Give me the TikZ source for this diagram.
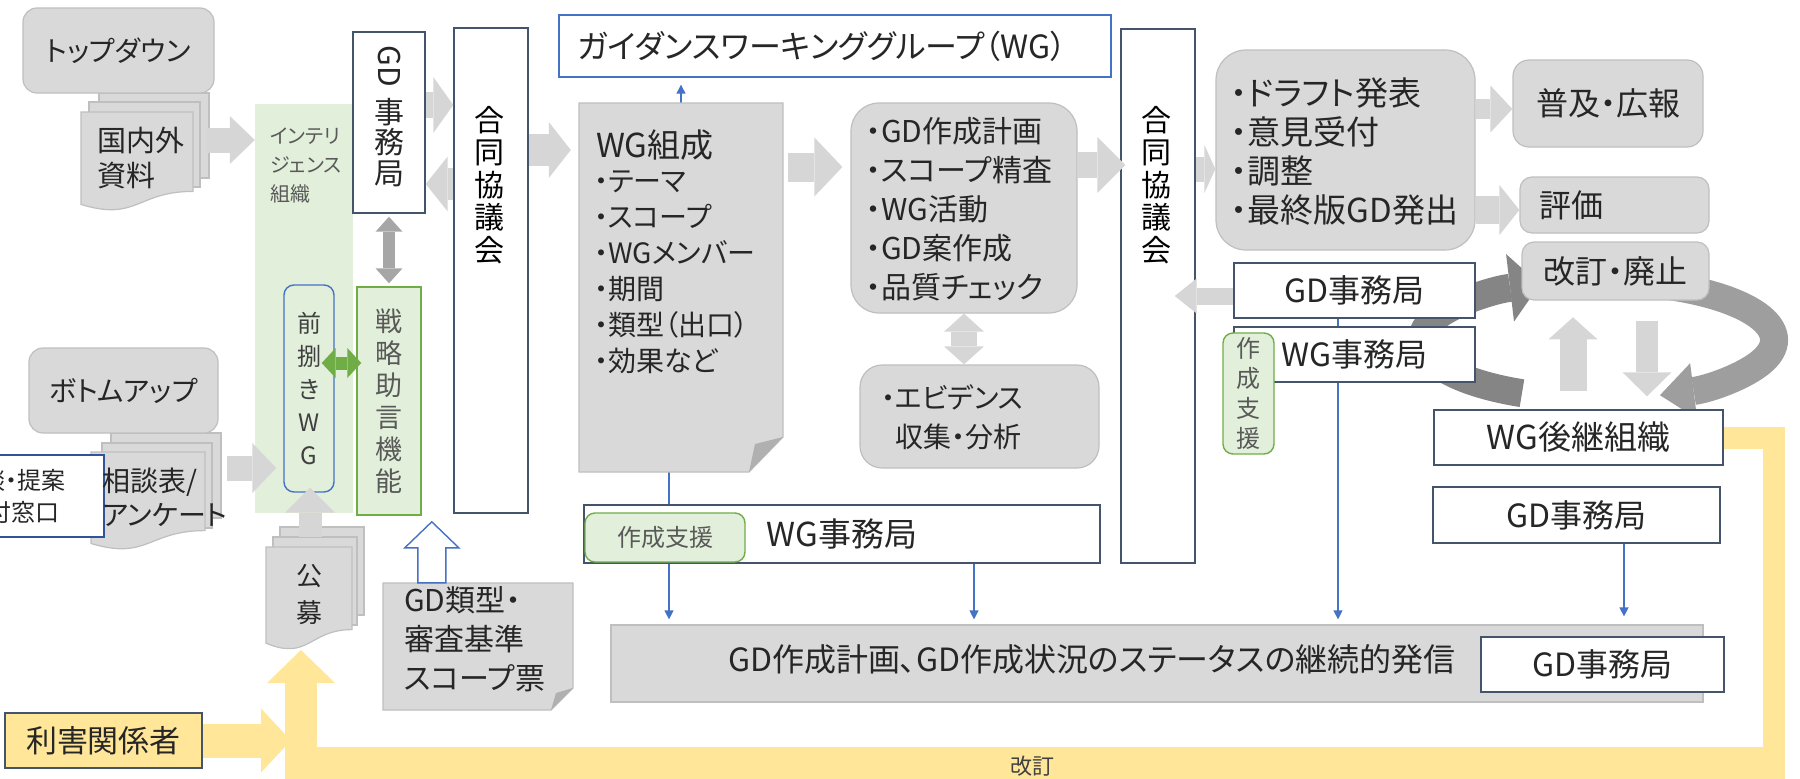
\documentclass[tikz,border=0pt]{standalone}
\usepackage{fontspec}
\usepackage{graphicx}
\setmainfont{Noto Sans CJK JP}[RawFeature=+palt]
\usetikzlibrary{arrows.meta,calc}
\definecolor{gfill}{HTML}{D9D9D9}
\definecolor{gbord}{HTML}{BFBFBF}
\definecolor{afill}{HTML}{D6D6D6}
\definecolor{dgray}{HTML}{A6A6A6}
\definecolor{wbord}{HTML}{44546A}
\definecolor{bl}{HTML}{4472C4}
\definecolor{bltwo}{HTML}{2F5597}
\definecolor{gfillg}{HTML}{E2EFDA}
\definecolor{grn}{HTML}{70AD47}
\definecolor{ylw}{HTML}{FFE699}
\definecolor{txt}{HTML}{262626}
\definecolor{gtxt}{HTML}{595959}
\definecolor{dtxt}{HTML}{404040}
\definecolor{fold}{HTML}{B0B0B0}
\definecolor{arcA}{HTML}{858585}
\definecolor{arcB}{HTML}{9E9E9E}
\pgfdeclarelayer{bg}
\pgfsetlayers{bg,main}
\newcommand\fsz[2]{\fontsize{#1}{#2}\selectfont}
\newcommand\docpage[4]{\draw[gdoc] (#1,#2) rectangle ++(#3,#4);}
\newcommand\docfront[4]{\draw[gdoc] (#1,#2) -- (#1+#3,#2) -- (#1+#3,#2+0.802*#4) .. controls +(-0.5*#3,0) and +(0.5*#3,0.173*#4) .. (#1,#2+0.934*#4) -- cycle;}
\begin{document}
\begin{tikzpicture}[x=1pt, y=-1pt,
  every node/.append style={text=txt, inner sep=0pt},
  gbox/.style={draw=gbord, fill=gfill, line width=1.2pt},
  wbox/.style={draw=wbord, fill=white, line width=1.4pt},
  gnbox/.style={draw=grn, fill=gfillg, line width=1.4pt, text=gtxt},
  gdoc/.style={draw=gbord, fill=gfill, line width=1.2pt},
  barr/.style n args={3}{draw=afill, line width=#1pt, -{Triangle[width=#2pt,length=#3pt,line width=0pt]}},
  dbarr/.style n args={3}{draw=afill, line width=#1pt, {Triangle[width=#2pt,length=#3pt,line width=0pt]}-{Triangle[width=#2pt,length=#3pt,line width=0pt]}},
  blu/.style={draw=bl, line width=1.2pt, -{Triangle[width=9pt,length=9pt]}},
  sz/.style 2 args={minimum width=#1pt, minimum height=#2pt}]
\useasboundingbox (0,0) rectangle (1800,779);

% ---------- left column ----------
\docpage{99}{93}{110}{85}
\docpage{89}{102}{111}{85}
\docfront{81}{112}{112}{99}
\node[gbox, rounded corners=14pt, sz={191}{85}, font=\fsz{28}{34}] (topdown) at (118.5,50.5) {トップダウン};
\node[font=\fsz{29}{35}, align=left] (kokunai) at (141,158) {国内外\\資料};
\coordinate (kokunaiR) at (206,140);

\docpage{111}{433}{110}{85}
\docpage{102}{443}{110}{85}
\docfront{91}{452}{114}{98}
\node[gbox, rounded corners=14pt, sz={189}{85}, font=\fsz{28}{34}] (bottomup) at (123.5,390.5) {ボトムアップ};
\node[wbox, draw=bltwo, sz={184}{82}, font=\fsz{24}{32}, align=center] (madoguchi) at (12,496) {相談・提案\\受付窓口};
\node[font=\fsz{28}{34}, align=left] (sodan) at (165,497.5) {相談表/\\アンケート};
\coordinate (sodanR) at (227,468);

\node[fill=gfillg, sz={98}{409}] (intel) at (304,308.5) {};
\node[anchor=west, align=left, font=\fsz{20}{29}, text=gtxt] (inteltxt) at (270,165.5) {インテリ\\ジェンス\\組織};

\node[wbox, sz={72}{181}] (gdj1) at (389,122.5) {};
\node[rotate=-90, font=\fsz{30}{30}] (gdj1a) at (389,66) {GD};
\node[font=\fsz{30}{30.5}, align=center] (gdj1b) at (389,142.5) {事\\務\\局};

\node[wbox, sz={74}{485}] (godo1) at (491,270.5) {};
\node[font=\fsz{30}{32.5}, align=center, text=black] (godo1t) at (489,185) {合\\同\\協\\議\\会};

\node[draw=bl, fill=gfillg, line width=1.4pt, rounded corners=10pt, sz={50}{207}, font=\fsz{24}{33}, align=center, text=dtxt] (maesaba) at (309,388.5) {前\\捌\\き\\W\\G};
\node[gnbox, sz={64}{228}, font=\fsz{27}{32}, align=center] (senryaku) at (389,401) {戦\\略\\助\\言\\機\\能};

\docpage{280}{527}{84}{88}
\docpage{273}{537}{84}{88}
\docfront{266}{547}{86}{103}
\node[font=\fsz{26}{37}, align=center] (kobo) at (309,595) {公\\募};
\coordinate (kobotop) at (310,537);
\coordinate (kobotip) at (301,650);

\draw[gdoc] (383,583) -- (573,583) -- (573,688) -- (551,710) -- (383,710) -- cycle;
\fill[fold] (573,688) -- (551,710) -- (556,693) -- cycle;
\node[sz={190}{127}] (ruikei) at (478,646.5) {};
\node[anchor=west, align=left, font=\fsz{30}{39}] (ruikeit) at (404,639) {GD類型・\\審査基準\\スコープ票};
\draw[draw=bl, fill=white, line width=1.4pt, shift={(ruikei.north west)}] (35,0) -- (63,0) -- (63,-35) -- (76,-35) -- (49,-61) -- (22,-35) -- (35,-35) -- cycle;

% yellow revision loop
\coordinate (ycorner) at (1774,752);
\coordinate (ybr) at (1785,763);
\draw[draw=ylw, line width=22pt] (1700,437.5) -| (ycorner);
\draw[draw=ylw, line width=32pt, -{Triangle[width=68pt,length=33pt,line width=0pt]}] (ybr) -| (kobotip);
\node[font=\fsz{22}{26}, text=dtxt] (kaiteilbl) at (1032,766) {改訂};
\node[draw=wbord, fill=ylw, line width=1.4pt, sz={197}{55}, font=\fsz{31}{36}] (rigai) at (103.5,740.5) {利害関係者};
\draw[draw=ylw, line width=34pt, -{Triangle[width=64pt,length=30pt,line width=0pt]}] (rigai.east) -- ([xshift=-10pt]kobotip |- rigai.east);

% ---------- middle ----------
\node[wbox, draw=bl, sz={552}{62}] (guide) at (835,46) {};
\node[font=\fsz{32}{36}] (guidet) at (822,46) {ガイダンスワーキンググループ（WG）};

\draw[gdoc] (579,103) -- (783,103) -- (783,437) -- (749,472) -- (579,472) -- cycle;
\fill[fold] (783,437) -- (749,472) -- (755,444) -- cycle;
\node[sz={204}{369}] (wgform) at (681,287.5) {};
\node[anchor=west, font=\fsz{33}{36}] (wgformt) at (596,145) {WG組成};
\node[anchor=west, align=left, font=\fsz{28}{36}] (wgformi) at (594,272) {・テーマ\\・スコープ\\・WGメンバー\\・期間\\・類型（出口）\\・効果など};

\node[gbox, rounded corners=28pt, sz={226}{210}] (gdplan) at (964,208) {};
\node[anchor=west, align=left, font=\fsz{30}{39}] (gdplant) at (866,209.5) {・GD作成計画\\・スコープ精査\\・WG活動\\・GD案作成\\・品質チェック};

\node[gbox, rounded corners=22pt, sz={239}{103}] (evid) at (979.5,416.5) {};
\node[anchor=west, align=left, font=\fsz{28}{39}] (evidt) at (881,417.5) {・エビデンス\\\hphantom{・}収集・分析};

\node[wbox, sz={516}{58}, font=\fsz{33}{36}] (wgj1) at (842,534) {WG事務局};
\node[gnbox, rounded corners=10pt, sz={160}{49}, font=\fsz{24}{28}] (shien1) at (665,537.5) {作成支援};

\node[gbox, sz={1092}{77}] (status) at (1157,663.5) {};
\node[font=\fsz{32}{36}] (statust) at (1092,659) {GD作成計画、GD作成状況のステータスの継続的発信};
\node[wbox, sz={243}{55}, font=\fsz{32}{36}] (gdj4) at (1602.5,664.5) {GD事務局};

% ---------- right ----------
\node[wbox, sz={74}{534}] (godo2) at (1158,296) {};
\node[font=\fsz{30}{32.5}, align=center, text=black] (godo2t) at (1156,185) {合\\同\\協\\議\\会};

\node[gbox, rounded corners=30pt, sz={259}{200}] (draft) at (1345.5,150) {};
\node[anchor=west, align=left, font=\fsz{33}{39}] (draftt) at (1231,151.5) {・ドラフト発表\\・意見受付\\・調整\\・最終版GD発出};

\node[gbox, rounded corners=16pt, sz={190}{87}, font=\fsz{32}{36}] (fukyu) at (1608,103.5) {普及・広報};
\node[gbox, rounded corners=12pt, sz={189}{56}] (hyoka) at (1614.5,205) {};
\node[anchor=west, font=\fsz{32}{36}] (hyokat) at ([xshift=20pt]hyoka.west) {評価};
\node[gbox, rounded corners=12pt, sz={187}{58}, font=\fsz{32}{36}] (kaitei) at (1615.5,271) {改訂・廃止};

\node[wbox, sz={241}{55}, font=\fsz{32}{36}] (gdj2) at (1354.5,290.5) {GD事務局};
\node[wbox, sz={241}{55}, font=\fsz{32}{36}] (wgj2) at (1354.5,354.5) {WG事務局};
\node[gnbox, rounded corners=10pt, sz={51}{121}, font=\fsz{24}{30}, align=center] (shien2) at (1248.5,393.5) {作\\成\\支\\援};

\node[wbox, sz={289}{55}, font=\fsz{33}{36}] (wgkk) at (1578.5,437.5) {WG後継組織};
\node[wbox, sz={287}{56}, font=\fsz{32}{36}] (gdj3) at (1576.5,515) {GD事務局};

% ---------- block arrows ----------
\draw[barr={25}{48}{25}] (kokunaiR) -- (intel.west |- kokunaiR);
\draw[barr={26}{56}{20}] (gdj1.east |- 0,105) -- (godo1.west |- 0,105);
\draw[barr={32}{55}{22}] (godo1.west |- 0,184) -- (gdj1.east |- 0,184);
\draw[dbarr={12}{27}{15}, draw=dgray, shorten <=3pt, shorten >=3pt] (gdj1.south) -- (senryaku.north);
\draw[barr={32}{56}{22}, shorten >=8pt] (godo1.east |- 0,150) -- (wgform.west |- 0,150);
\draw[barr={29}{59}{28}, shorten <=5pt, shorten >=8pt] (wgform.east |- 0,167) -- (gdplan.west |- 0,167);
\draw[dbarr={26}{40}{18}] (gdplan.south) -- (evid.north -| gdplan.south);
\draw[barr={26}{56}{28}] (gdplan.east |- 0,165) -- ([xshift=5pt]godo2.west |- 0,165);
\draw[barr={25}{48}{11}] (godo2.east |- 0,169) -- (draft.west |- 0,169);
\draw[barr={20}{47}{22}] (draft.east |- 0,109) -- (fukyu.west |- 0,109);
\draw[barr={28}{50}{20}] (draft.east |- 0,210) -- (hyoka.west |- 0,210);
\draw[barr={17}{35}{22}] (gdj2.west |- 0,296) -- ([xshift=-21pt]godo2.east |- 0,296);
\draw[barr={25}{50}{24}, shorten >=7pt] (sodanR) -- (maesaba.west |- sodanR);
\draw[barr={23}{50}{25}] (kobotop) -- ([yshift=5pt]maesaba.south -| kobotop);
\draw[dbarr={13}{30}{14}, draw=grn] ([xshift=-13pt]maesaba.east |- 0,363) -- ([xshift=5pt]senryaku.west |- 0,363);
\draw[barr={27}{49}{22}] ([xshift=-5.5pt,yshift=18pt]wgkk.north) -- ([xshift=-5.5pt,yshift=92pt]wgkk.north);
\draw[barr={22}{49}{24}] ([xshift=31.5pt,yshift=-20pt]kaitei.south) -- ([xshift=68.5pt,yshift=13pt]wgkk.north);

% ---------- background: loop arrow and thin blue arrows ----------
\begin{pgfonlayer}{bg}
\draw[draw=arcA, line width=28pt, -{Triangle[width=68pt,length=30pt,line width=0pt]}] (1598,340) ++(115.6:176 and 59) arc[start angle=115.6, end angle=250.7, x radius=176, y radius=59];
\draw[draw=arcB, line width=28pt, -{Triangle[width=56pt,length=34pt,line width=0pt]}] (1598,340) ++(-70:176 and 59) arc[start angle=-70, end angle=69.4, x radius=176, y radius=59];
\draw[blu] (wgform.north) -- ([yshift=-7pt]guide.south -| wgform.north);
\draw[blu, shorten >=5pt] ([xshift=-12pt]wgform.south) -- ([xshift=-12pt]wgform.south |- status.north);
\draw[blu, shorten >=5pt] ([xshift=132pt]wgj1.south) -- ([xshift=132pt]wgj1.south |- status.north);
\draw[blu, shorten >=5pt] ([xshift=-16.5pt]gdj2.south) -- ([xshift=-16.5pt]gdj2.south |- status.north);
\draw[blu, shorten >=8pt] ([xshift=47.5pt]gdj3.south) -- ([xshift=47.5pt]gdj3.south |- status.north);
\end{pgfonlayer}
\end{tikzpicture}
\end{document}
